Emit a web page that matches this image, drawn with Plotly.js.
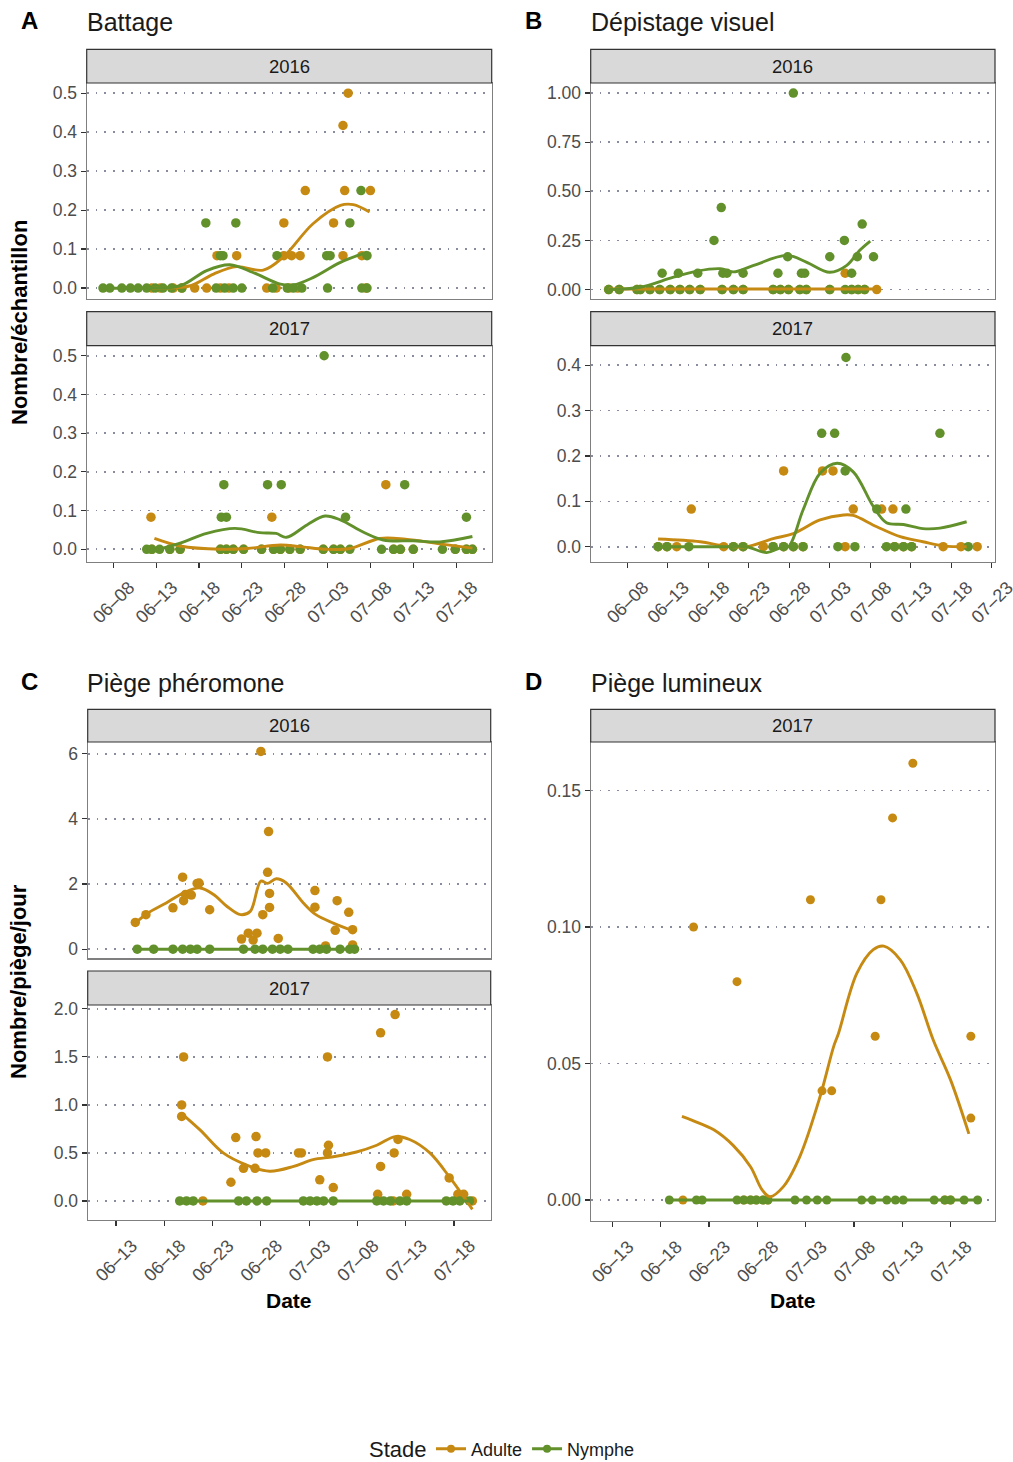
<!DOCTYPE html>
<html>
<head>
<meta charset="utf-8">
<script src="https://cdn.plot.ly/plotly-3.0.1.min.js"></script>
<style>html,body{margin:0;padding:0;background:#fff;overflow:hidden;}#chart{width:1013px;height:1462px;}</style>
</head>
<body>
<div id="chart"></div>
<script>
// ---------- DATA (x = day counted from 1 June; 31 = 1 July) ----------
// Panel A - Battage, 2016
const A16_adulte_x = [35.4, 34.8, 30.4, 35.0, 38.0, 27.9, 33.7, 20.1, 22.4, 27.9, 28.8, 29.8, 34.8, 37.0, 18.9, 25.9,
  12.5, 13.5, 15.0, 16.0, 17.5, 20.5, 21.5, 27.0, 28.5, 29.5, 37.5];
const A16_adulte_y = [0.5, 0.417, 0.25, 0.25, 0.25, 0.167, 0.167, 0.083, 0.083, 0.083, 0.083, 0.083, 0.083, 0.083, 0, 0,
  0, 0, 0, 0, 0, 0, 0, 0, 0, 0, 0];
const A16_nymphe_x = [36.9, 18.8, 22.3, 35.6, 20.5, 20.8, 27.1, 32.9, 33.3, 37.6,
  6.8, 7.6, 9.0, 10.0, 10.9, 11.9, 12.9, 13.8, 14.8, 16.0, 20.0, 21.0, 22.0, 23.0, 26.6, 28.3, 29.0, 30.0, 33.0, 37.0, 37.6];
const A16_nymphe_y = [0.25, 0.167, 0.167, 0.167, 0.083, 0.083, 0.083, 0.083, 0.083, 0.083,
  0, 0, 0, 0, 0, 0, 0, 0, 0, 0, 0, 0, 0, 0, 0, 0, 0, 0, 0, 0, 0];
const A16_adulte_fit_x = [12.5, 13.8, 17.0, 19.7, 22.4, 25.5, 27.8, 31.3, 34.5, 36.0, 37.9];
const A16_adulte_fit_y = [0.0, 0.0, 0.006, 0.036, 0.055, 0.046, 0.079, 0.165, 0.212, 0.214, 0.195];
const A16_nymphe_fit_x = [6.8, 11.9, 15.8, 18.9, 21.6, 24.3, 27.5, 29.0, 31.3, 34.5, 37.6];
const A16_nymphe_fit_y = [0.0, 0.0, 0.006, 0.045, 0.06, 0.04, 0.01, 0.008, 0.027, 0.066, 0.092];

// Panel A - Battage, 2017
const A17_adulte_x = [12.4, 26.5, 39.8,
  12.5, 14.6, 15.8, 20.5, 21.2, 22.0, 23.2, 25.3, 26.7, 27.5, 28.6, 29.8, 32.5, 33.7, 34.5, 40.7, 41.5, 43.0, 47.9, 49.2, 49.9];
const A17_adulte_y = [0.083, 0.083, 0.167,
  0, 0, 0, 0, 0, 0, 0, 0, 0, 0, 0, 0, 0, 0, 0, 0, 0, 0, 0, 0, 0];
const A17_nymphe_x = [32.6, 20.9, 26.0, 27.6, 42.0, 20.6, 21.2, 35.1, 49.2,
  11.9, 12.5, 13.4, 14.6, 15.8, 20.5, 21.2, 22.0, 23.2, 25.3, 26.7, 27.5, 28.6, 29.8, 32.5, 33.7, 34.5, 35.6, 39.3, 40.7, 41.5, 43.0, 46.4, 47.9, 49.2, 49.9];
const A17_nymphe_y = [0.5, 0.167, 0.167, 0.167, 0.167, 0.083, 0.083, 0.083, 0.083,
  0, 0, 0, 0, 0, 0, 0, 0, 0, 0, 0, 0, 0, 0, 0, 0, 0, 0, 0, 0, 0, 0, 0, 0, 0, 0];
const A17_adulte_fit_x = [12.8, 15.8, 20.5, 23.6, 27.5, 29.8, 32.9, 35.6, 39.1, 42.1, 46.1, 49.9];
const A17_adulte_fit_y = [0.028, 0.0085, 0.0, 0.002, 0.011, 0.007, 0.0, 0.002, 0.028, 0.026, 0.014, 0.003];
const A17_nymphe_fit_x = [12.2, 15.8, 18.9, 22.2, 25.1, 27.0, 28.2, 30.6, 32.7, 34.5, 37.2, 39.5, 43.0, 46.1, 49.9];
const A17_nymphe_fit_y = [-0.006, 0.016, 0.041, 0.054, 0.043, 0.041, 0.031, 0.063, 0.086, 0.076, 0.044, 0.024, 0.022, 0.019, 0.033];

// Panel B - Dépistage visuel, 2016
const B16_adulte_x = [34.9,
  5.7, 7.0, 9.2, 9.6, 10.8, 12.0, 13.3, 14.5, 15.7, 17.0, 19.7, 21.1, 22.3, 26.0, 26.9, 27.9, 29.3, 30.1, 33.0, 35.7, 36.5, 37.3, 38.8];
const B16_adulte_y = [0.083,
  0, 0, 0, 0, 0, 0, 0, 0, 0, 0, 0, 0, 0, 0, 0, 0, 0, 0, 0, 0, 0, 0, 0];
const B16_nymphe_x = [28.5, 19.6, 18.7, 34.8, 37.0, 12.3, 14.3, 16.7, 19.8, 20.3, 22.3, 26.6, 27.8, 29.5, 29.9, 33.0, 35.7, 36.4, 38.4,
  5.7, 7.0, 9.2, 9.6, 10.8, 12.0, 13.3, 14.5, 15.7, 17.0, 19.7, 21.1, 22.3, 26.0, 26.9, 27.9, 29.3, 30.1, 33.0, 34.9, 35.7, 36.5, 37.3];
const B16_nymphe_y = [1.0, 0.417, 0.25, 0.25, 0.333, 0.083, 0.083, 0.083, 0.083, 0.083, 0.083, 0.083, 0.167, 0.083, 0.083, 0.167, 0.083, 0.167, 0.167,
  0, 0, 0, 0, 0, 0, 0, 0, 0, 0, 0, 0, 0, 0, 0, 0, 0, 0, 0, 0, 0, 0, 0];
const B16_adulte_fit_x = [5.7, 15.0, 25.0, 38.8];
const B16_adulte_fit_y = [0.003, 0.003, 0.003, 0.003];
const B16_nymphe_fit_x = [5.7, 9.6, 13.7, 16.6, 19.5, 21.1, 23.6, 27.7, 30.1, 33.0, 35.1, 36.7, 38.0];
const B16_nymphe_fit_y = [0.0, 0.012, 0.063, 0.094, 0.106, 0.09, 0.123, 0.174, 0.14, 0.088, 0.123, 0.2, 0.247];

// Panel B - Dépistage visuel, 2017
const B17_adulte_x = [15.9, 27.3, 32.1, 33.4, 35.9, 39.4, 40.8,
  11.8, 12.9, 14.1, 19.9, 21.1, 22.3, 24.8, 26.0, 27.3, 28.5, 29.7, 34.9, 41.0, 42.1, 43.1, 47.0, 49.2, 51.2];
const B17_adulte_y = [0.083, 0.167, 0.167, 0.167, 0.083, 0.083, 0.083,
  0, 0, 0, 0, 0, 0, 0, 0, 0, 0, 0, 0, 0, 0, 0, 0, 0, 0];
const B17_nymphe_x = [35.0, 32.0, 33.6, 46.6, 34.9, 38.8, 42.4,
  11.8, 12.9, 15.6, 21.1, 22.3, 26.0, 27.3, 28.5, 29.7, 34.0, 36.1, 40.0, 41.0, 42.1, 43.1, 50.1];
const B17_nymphe_y = [0.417, 0.25, 0.25, 0.25, 0.167, 0.083, 0.083,
  0, 0, 0, 0, 0, 0, 0, 0, 0, 0, 0, 0, 0, 0, 0, 0];
const B17_adulte_fit_x = [11.8, 17.0, 19.9, 22.7, 26.0, 28.5, 31.8, 34.7, 35.9, 38.8, 41.7, 44.5, 47.0, 49.9];
const B17_adulte_fit_y = [0.017, 0.011, 0.002, 0.0, 0.018, 0.029, 0.059, 0.07, 0.069, 0.044, 0.022, 0.011, 0.002, 0.0];
const B17_nymphe_fit_x = [11.8, 19.9, 22.7, 25.2, 26.8, 27.9, 29.7, 31.8, 33.9, 35.9, 38.4, 40.0, 42.1, 44.5, 46.6, 49.9];
const B17_nymphe_fit_y = [0.0, 0.0, 0.0, -0.013, -0.003, 0.0, 0.081, 0.162, 0.184, 0.165, 0.088, 0.053, 0.049, 0.040, 0.041, 0.055];

// Panel C - Piège phéromone, 2016
const C16_adulte_x = [15.0, 16.1, 18.9, 19.9, 20.0, 20.2, 20.8, 21.4, 21.6, 22.7, 26.0, 26.7, 27.2, 27.6, 28.0, 28.2, 28.8, 28.7, 28.9, 28.9,
  29.8, 33.6, 33.6, 34.7, 35.7, 35.9, 37.1, 37.5, 37.5];
const C16_adulte_y = [0.82, 1.06, 1.27, 2.21, 1.49, 1.68, 1.66, 2.02, 2.03, 1.21, 0.31, 0.49, 0.28, 0.49, 6.07, 1.06, 3.61, 2.36, 1.71, 1.28,
  0.33, 1.8, 1.29, 0.1, 0.58, 1.49, 1.13, 0.6, 0.13];
const C16_nymphe_x = [15.2, 16.9, 18.9, 19.9, 20.7, 21.4, 22.7, 26.2, 27.4, 28.2, 29.2, 30.0, 30.8, 33.4, 34.1, 34.8, 36.2, 37.2, 37.7];
const C16_nymphe_y = [0, 0, 0, 0, 0, 0, 0, 0, 0, 0, 0, 0, 0, 0, 0, 0, 0, 0, 0];
const C16_adulte_fit_x = [15.2, 16.3, 18.2, 20.0, 21.7, 23.1, 24.5, 25.9, 26.9, 28.0, 28.7, 29.6, 30.6, 32.4, 33.7, 35.5, 37.5];
const C16_adulte_fit_y = [0.85, 1.11, 1.42, 1.73, 1.88, 1.68, 1.31, 1.06, 1.16, 2.09, 2.02, 2.16, 2.04, 1.42, 1.06, 0.8, 0.57];
const C16_nymphe_fit_x = [15.2, 26.0, 37.7];
const C16_nymphe_fit_y = [0, 0, 0];

// Panel C - Piège phéromone, 2017
const C17_adulte_x = [19.8, 20.0, 19.8, 22.0, 24.9, 25.4, 26.2, 27.4, 27.5, 27.7, 28.5, 31.9, 32.2, 34.1, 34.9, 35.0, 34.9, 35.5,
  40.1, 40.4, 40.4, 41.8, 41.9, 42.2, 43.1, 47.5, 48.4, 49.0, 41.7, 49.9];
const C17_adulte_y = [1.0, 1.5, 0.88, 0, 0.195, 0.66, 0.34, 0.34, 0.67, 0.5, 0.5, 0.5, 0.5, 0.22, 1.5, 0.58, 0.5, 0.14,
  0.07, 1.75, 0.36, 0.5, 1.94, 0.64, 0.07, 0.24, 0.07, 0.07, 0, 0];
const C17_nymphe_x = [19.6, 20.3, 21.0, 25.7, 26.5, 27.6, 28.6, 32.4, 33.1, 33.8, 34.5, 35.5, 40.0, 40.7, 41.4, 42.4, 43.1, 47.2, 47.9, 48.6, 49.6];
const C17_nymphe_y = [0, 0, 0, 0, 0, 0, 0, 0, 0, 0, 0, 0, 0, 0, 0, 0, 0, 0, 0, 0, 0];
const C17_adulte_fit_x = [19.8, 21.7, 24.1, 26.5, 28.9, 31.4, 33.4, 35.5, 37.9, 40.0, 41.9, 43.4, 45.5, 47.6, 49.0, 49.9];
const C17_adulte_fit_y = [0.91, 0.74, 0.5, 0.375, 0.31, 0.36, 0.43, 0.46, 0.51, 0.58, 0.67, 0.64, 0.5, 0.24, 0.045, -0.087];
const C17_nymphe_fit_x = [19.6, 35.0, 49.6];
const C17_nymphe_fit_y = [0, 0, 0];

// Panel D - Piège lumineux, 2017
const D17_adulte_x = [44.1, 42.0, 33.5, 40.8, 21.4, 25.9, 40.2, 50.1, 34.7, 35.7, 50.1,
  20.3, 26.6, 27.3, 27.9, 28.6, 29.1, 47.4, 48.0];
const D17_adulte_y = [0.16, 0.14, 0.11, 0.11, 0.10, 0.08, 0.06, 0.06, 0.04, 0.04, 0.03,
  0, 0, 0, 0, 0, 0, 0, 0];
const D17_nymphe_x = [18.9, 21.7, 22.3, 25.9, 26.6, 27.3, 27.9, 28.6, 29.1, 31.9, 33.1, 34.2, 35.2, 38.8, 39.9, 41.4, 42.3, 43.1, 46.3, 47.4, 48.0, 49.4, 50.8];
const D17_nymphe_y = [0, 0, 0, 0, 0, 0, 0, 0, 0, 0, 0, 0, 0, 0, 0, 0, 0, 0, 0, 0, 0, 0, 0];
const D17_adulte_fit_x = [20.2, 21.4, 23.5, 25.5, 27.3, 28.5, 29.3, 30.7, 32.4, 34.5, 35.9, 36.4, 38.3, 40.0, 41.1, 42.8, 44.5, 46.2, 48.0, 49.9];
const D17_adulte_fit_y = [0.0306, 0.029, 0.0257, 0.020, 0.0122, 0.0037, 0.0012, 0.0049, 0.0159, 0.0379, 0.0562, 0.061, 0.083, 0.0917, 0.093, 0.088, 0.0758, 0.0587, 0.044, 0.0242];
const D17_nymphe_fit_x = [18.9, 35.0, 50.8];
const D17_nymphe_fit_y = [0, 0, 0];

const stades = ['Adulte', 'Nymphe'];
const legendTitle = 'Stade';
const stripLabels = ['2016', '2017', '2016', '2017', '2016', '2017', '2017'];
const panelTitles = ['Battage', 'Dépistage visuel', 'Piège phéromone', 'Piège lumineux'];
const panelLetters = ['A', 'B', 'C', 'D'];
const yTitles = ['Nombre/échantillon', 'Nombre/piège/jour'];
const xTitle = 'Date';

// ---------- STYLE / LAYOUT ----------
const W = 1013, H = 1462;
const COL = {Adulte: '#C68A12', Nymphe: '#62912B'};
const FONT = 'Liberation Sans, Arial, Helvetica, sans-serif';
const toDate = d => new Date(Date.UTC(2017, 5, 1) + (d - 1) * 86400000).toISOString().slice(0, 19).replace('T', ' ');
const px = x => x / W, py = y => 1 - y / H;

// pixel boxes of the panels: [left, right, top, bottom], strip [top,bottom]
const panels = [
  {id: 'A16', box: [86.7, 491.7, 83.0, 299.0], strip: [49.3, 83.0], xr: [4.9, 52.15], yr: [-0.028, 0.526], dt: 0.1, fmt: '.1f', xlab: false,
   data: [A16_adulte_x, A16_adulte_y, A16_nymphe_x, A16_nymphe_y, A16_adulte_fit_x, A16_adulte_fit_y, A16_nymphe_fit_x, A16_nymphe_fit_y]},
  {id: 'A17', box: [86.7, 491.7, 345.7, 561.7], strip: [311.7, 345.7], xr: [4.9, 52.15], yr: [-0.032, 0.526], dt: 0.1, fmt: '.1f', xlab: true,
   data: [A17_adulte_x, A17_adulte_y, A17_nymphe_x, A17_nymphe_y, A17_adulte_fit_x, A17_adulte_fit_y, A17_nymphe_fit_x, A17_nymphe_fit_y]},
  {id: 'B16', box: [590.7, 995, 83.0, 299.0], strip: [49.3, 83.0], xr: [3.48, 53.4], yr: [-0.048, 1.051], dt: 0.25, fmt: '.2f', xlab: false,
   data: [B16_adulte_x, B16_adulte_y, B16_nymphe_x, B16_nymphe_y, B16_adulte_fit_x, B16_adulte_fit_y, B16_nymphe_fit_x, B16_nymphe_fit_y]},
  {id: 'B17', box: [590.7, 995, 345.7, 561.7], strip: [311.7, 345.7], xr: [3.48, 53.4], yr: [-0.033, 0.443], dt: 0.1, fmt: '.1f', xlab: true,
   data: [B17_adulte_x, B17_adulte_y, B17_nymphe_x, B17_nymphe_y, B17_adulte_fit_x, B17_adulte_fit_y, B17_nymphe_fit_x, B17_nymphe_fit_y]},
  {id: 'C16', box: [87.7, 490.7, 742.0, 958.3], strip: [709.3, 742.0], xr: [10.07, 51.8], yr: [-0.28, 6.36], dt: 2, fmt: 'd', xlab: false,
   data: [C16_adulte_x, C16_adulte_y, C16_nymphe_x, C16_nymphe_y, C16_adulte_fit_x, C16_adulte_fit_y, C16_nymphe_fit_x, C16_nymphe_fit_y]},
  {id: 'C17', box: [87.7, 490.7, 1005, 1220], strip: [971, 1005], xr: [10.07, 51.8], yr: [-0.198, 2.04], dt: 0.5, fmt: '.1f', xlab: true,
   data: [C17_adulte_x, C17_adulte_y, C17_nymphe_x, C17_nymphe_y, C17_adulte_fit_x, C17_adulte_fit_y, C17_nymphe_fit_x, C17_nymphe_fit_y]},
  {id: 'D17', box: [590.7, 995, 742.0, 1221], strip: [709.3, 742.0], xr: [10.76, 52.6], yr: [-0.0077, 0.1678], dt: 0.05, fmt: '.2f', xlab: true,
   data: [D17_adulte_x, D17_adulte_y, D17_nymphe_x, D17_nymphe_y, D17_adulte_fit_x, D17_adulte_fit_y, D17_nymphe_fit_x, D17_nymphe_fit_y]}
];

const traces = [];
const LEG_Y = 1449;
const layout = {
  width: W, height: H, margin: {l: 0, r: 0, t: 0, b: 0, autoexpand: false},
  paper_bgcolor: '#fff', plot_bgcolor: '#fff',
  font: {family: FONT, color: '#1a1a1a'},
  showlegend: true,
  legend: {orientation: 'h', x: px(431), xanchor: 'left', y: py(LEG_Y), yanchor: 'middle',
    font: {size: 18, color: '#1a1a1a'}, itemwidth: 30, tracegroupgap: 0, bgcolor: 'rgba(0,0,0,0)', borderwidth: 0},
  shapes: [], annotations: []
};

panels.forEach((p, i) => {
  const n = i + 1, xa = 'x' + (n === 1 ? '' : n), ya = 'y' + (n === 1 ? '' : n);
  const [ax, ay, nx, ny, afx, afy, nfx, nfy] = p.data;
  const conv = a => a.map(toDate);
  const ms = p.id === 'D17' ? 9 : 9.5;
  traces.push({type: 'scatter', mode: 'markers', x: conv(ax), y: ay, xaxis: xa, yaxis: ya, showlegend: false,
    marker: {color: COL.Adulte, size: ms}, hoverinfo: 'skip'});
  traces.push({type: 'scatter', mode: 'markers', x: conv(nx), y: ny, xaxis: xa, yaxis: ya, showlegend: false,
    marker: {color: COL.Nymphe, size: ms}, hoverinfo: 'skip'});
  traces.push({type: 'scatter', mode: 'lines', x: conv(afx), y: afy, xaxis: xa, yaxis: ya, showlegend: false,
    line: {color: COL.Adulte, width: 2.9, shape: 'spline', smoothing: 1}, hoverinfo: 'skip'});
  traces.push({type: 'scatter', mode: 'lines', x: conv(nfx), y: nfy, xaxis: xa, yaxis: ya, showlegend: false,
    line: {color: COL.Nymphe, width: 2.9, shape: 'spline', smoothing: 1}, hoverinfo: 'skip'});

  const [l, r, t, b] = p.box;
  layout['xaxis' + (n === 1 ? '' : n)] = {
    type: 'date', domain: [px(l), px(r)], anchor: ya, range: [toDate(p.xr[0]), toDate(p.xr[1])],
    tick0: '2017-06-08', dtick: 5 * 86400000, tickformat: '%m\u2013%d',
    showticklabels: p.xlab, ticks: p.xlab ? 'outside' : '', ticklen: 5, tickwidth: 1.2, tickcolor: '#333',
    tickangle: -45, tickfont: {size: 18, color: '#4d4d4d', family: FONT}, ticklabelshift: 16, ticklabelstandoff: 2,
    ticklabeloverflow: 'allow', automargin: false,
    showgrid: false, zeroline: false, showline: true, mirror: true, linecolor: '#7f7f7f', linewidth: 1.2, fixedrange: true
  };
  layout['yaxis' + (n === 1 ? '' : n)] = {
    domain: [py(b), py(t)], anchor: xa, range: p.yr, dtick: p.dt, tick0: 0, tickformat: p.fmt, automargin: false,
    ticks: 'outside', ticklen: 5, tickwidth: 1.2, tickcolor: '#333', tickfont: {size: 17.5, color: '#4d4d4d', family: FONT},
    showgrid: true, gridcolor: '#878c9e', griddash: '1.8px,7px', gridwidth: 1.7,
    zeroline: false, showline: true, mirror: true, linecolor: '#7f7f7f', linewidth: 1.2, fixedrange: true
  };
  // strip
  layout.shapes.push({type: 'rect', xref: 'paper', yref: 'paper', x0: px(l), x1: px(r), y0: py(p.strip[1]), y1: py(p.strip[0]),
    fillcolor: '#d9d9d9', line: {color: '#333', width: 1.2}, layer: 'above'});
  layout.annotations.push({xref: 'paper', yref: 'paper', x: px((l + r) / 2), y: py((p.strip[0] + p.strip[1]) / 2),
    text: stripLabels[i], showarrow: false, xanchor: 'center', yanchor: 'middle', font: {size: 18.5, color: '#1a1a1a'}});
});

// legend-only traces
stades.forEach(s => traces.push({type: 'scatter', mode: 'lines+markers', x: [null], y: [null], name: s,
  line: {color: COL[s], width: 2.9}, marker: {color: COL[s], size: 8}, showlegend: true}));
// legend title
layout.annotations.push({xref: 'paper', yref: 'paper', x: px(368), y: py(LEG_Y), text: legendTitle, showarrow: false,
  xanchor: 'left', yanchor: 'middle', borderpad: 0, font: {size: 22, color: '#1a1a1a'}});

// panel titles
const titlePos = [[29, 85, 21, 22], [533, 589, 21, 22], [29, 85, 681, 683], [533, 589, 681, 683]];
titlePos.forEach((tp, i) => {
  layout.annotations.push({xref: 'paper', yref: 'paper', x: px(tp[0]), y: py(tp[2]), text: '<b>' + panelLetters[i] + '</b>',
    showarrow: false, xanchor: 'center', yanchor: 'middle', font: {size: 24, color: '#000'}});
  layout.annotations.push({xref: 'paper', yref: 'paper', x: px(tp[1]), y: py(tp[3]), text: panelTitles[i],
    showarrow: false, xanchor: 'left', yanchor: 'middle', font: {size: 25, color: '#1a1a1a'}});
});
// axis titles
layout.annotations.push({xref: 'paper', yref: 'paper', x: px(20), y: py(323), text: '<b>' + yTitles[0] + '</b>', textangle: -90,
  showarrow: false, xanchor: 'center', yanchor: 'middle', font: {size: 22, color: '#000'}});
layout.annotations.push({xref: 'paper', yref: 'paper', x: px(18), y: py(982), text: '<b>' + yTitles[1] + '</b>', textangle: -90,
  showarrow: false, xanchor: 'center', yanchor: 'middle', font: {size: 22, color: '#000'}});
[289, 793].forEach(x => layout.annotations.push({xref: 'paper', yref: 'paper', x: px(x), y: py(1300), text: '<b>' + xTitle + '</b>',
  showarrow: false, xanchor: 'center', yanchor: 'middle', font: {size: 21, color: '#000'}}));

Plotly.newPlot('chart', traces, layout, {staticPlot: true, displayModeBar: false});
</script>
</body>
</html>
